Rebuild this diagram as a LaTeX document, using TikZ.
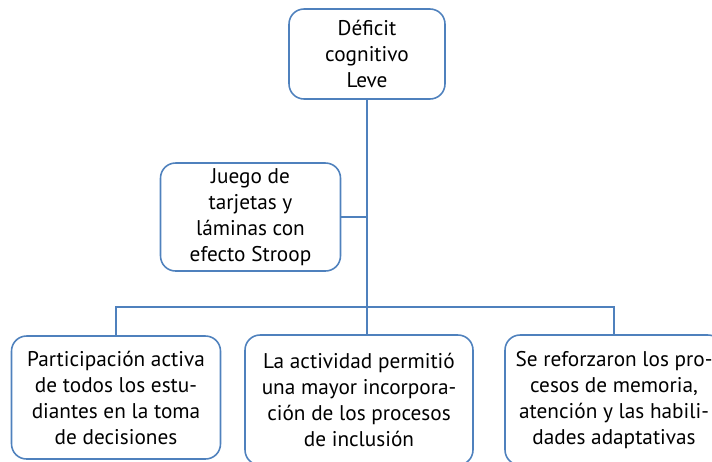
\documentclass[tikz,border=0pt]{standalone}
\usepackage{fontspec}
\setmainfont{PT Sans}
\usetikzlibrary{positioning}
\definecolor{boxblue}{RGB}{79,129,189}

\begin{document}
\begin{tikzpicture}[x=0.02cm,y=-0.02cm]

  \tikzstyle{every node}=[font=\fontsize{12.1}{14.8}\selectfont,align=center]
  \tikzstyle{caja}=[draw=boxblue,line width=0.9pt,rounded corners=0.3cm,inner sep=0pt]
  \tikzstyle{link}=[draw=boxblue,line width=0.6pt]

  \clip (0,0) rectangle (712,461);

  \node[caja,minimum width=3.12cm,minimum height=1.8cm] (def) at (367,54)
    {Déficit \\ cognitivo \\ Leve};
  \node[caja,minimum width=3.6cm,minimum height=2.16cm] (jue) at (250.5,217)
    {Juego de \\ tarjetas y \\ láminas con \\ efecto Stroop};
  \node[caja,minimum width=4.18cm,minimum height=2.46cm] (par) at (116,397.5)
    {Participación activa \\ de todos los estu- \\ diantes en la toma \\ de decisiones};
  \node[caja,minimum width=4.56cm,minimum height=2.6cm] (act) at (359,400)
    {La actividad permitió \\ una mayor incorpora- \\ ción de los procesos \\ de inclusión};
  \node[caja,minimum width=4.36cm,minimum height=2.6cm] (ref) at (614,400)
    {Se reforzaron los pro- \\ cesos de memoria, \\ atención y las habili- \\ dades adaptativas};

  \coordinate (split) at (367,307);

  \draw[link] (def.south) -- (split);
  \draw[link] (jue.east) -- (jue.east -| split);
  \foreach \to in {par,ref}
    \draw[link] (split) -| (\to.north);
  \draw[link] (split) -- (split |- act.north);

\end{tikzpicture}
\end{document}
